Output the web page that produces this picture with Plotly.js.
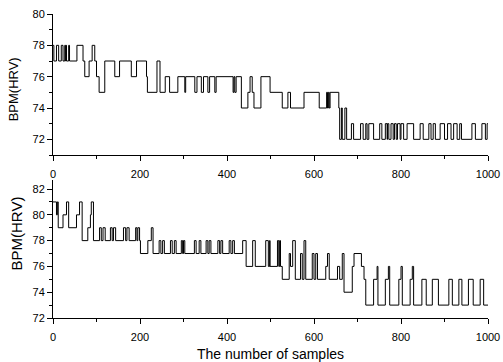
<!DOCTYPE html>
<html>
<head>
<meta charset="utf-8">
<script src="https://cdn.plot.ly/plotly-3.0.1.min.js"></script>
<style>html,body{margin:0;padding:0;background:#fff;}#chart{width:503px;height:362px;}</style>
</head>
<body>
<div id="chart"></div>
<script>
// Sample index where the value changes (step data) and the value from that sample on
const topSamples = [0,2,8,13,19,23,27,29,30,31,36,38,55,69,73,83,90,96,100,106,119,142,153,180,192,215,217,239,246,258,268,287,303,305,326,331,341,346,356,360,372,375,414,416,418,421,433,448,453,458,462,478,499,527,540,546,577,612,629,631,633,635,637,657,659,663,665,671,675,686,691,707,713,719,722,726,737,751,756,764,768,769,772,777,782,785,789,792,798,800,806,814,829,844,851,864,869,874,879,890,900,907,915,921,929,935,939,963,971,986,994,998,1000];
const topBPM     = [78,77,78,77,78,77,78,77,78,77,78,77,78,77,76,77,78,77,76,75,77,76,77,76,77,76,75,77,75,76,75,76,75,76,75,76,75,76,75,76,75,76,75,76,75,76,74,75,76,75,74,76,75,74,75,74,75,74,75,74,75,74,75,74,72,74,72,74,72,73,72,73,72,73,72,73,72,73,72,73,72,73,72,73,72,73,72,73,72,73,72,73,72,73,72,73,72,73,72,73,72,73,72,73,72,73,72,73,72,73,72,73,73];

const botSamples = [0,8,10,12,23,31,36,54,61,67,80,86,88,93,107,111,115,120,132,136,139,144,162,167,170,175,190,193,195,199,201,218,226,230,244,248,252,256,270,274,279,283,295,298,300,303,325,329,336,340,352,356,359,363,379,383,386,390,405,409,413,417,436,444,459,465,489,495,498,499,516,519,521,523,527,543,546,551,557,569,573,577,581,596,600,604,608,627,631,635,654,659,665,669,688,692,709,715,719,737,745,747,764,771,774,795,800,803,821,826,829,848,858,872,886,910,918,933,940,955,966,982,990,1000];
const botBPM     = [81,80,81,79,80,81,79,80,81,78,79,80,81,78,79,78,79,78,79,78,79,78,79,78,79,78,79,78,79,78,77,78,79,77,78,77,78,77,78,77,78,77,78,77,78,77,78,77,78,77,78,77,78,77,78,77,78,77,78,77,78,77,78,76,78,76,78,76,78,76,78,76,78,76,75,77,76,78,75,77,75,78,75,77,75,77,75,76,77,75,76,75,77,74,76,77,76,75,73,75,76,73,75,76,73,75,76,73,75,76,73,75,73,75,73,75,73,75,73,75,73,75,73,73];

const xTicks = [0,200,400,600,800,1000];
const xLabel = 'The number of samples';
const yLabel = 'BPM(HRV)';

const fam = 'Liberation Sans, Arial, sans-serif';
const font = {family: fam, size: 11, color: '#000'};

const lineStyle = {color: '#000', width: 1, shape: 'hv'};
const traces = [
  {x: topSamples, y: topBPM, type: 'scatter', mode: 'lines', line: lineStyle, xaxis: 'x', yaxis: 'y', hoverinfo: 'none'},
  {x: botSamples, y: botBPM, type: 'scatter', mode: 'lines', line: lineStyle, xaxis: 'x2', yaxis: 'y2', hoverinfo: 'none'}
];

function xAxis(anchor, withTitle) {
  return {
    anchor: anchor, range: [0, 1000], tickvals: xTicks, ticktext: xTicks.map(String),
    showgrid: false, zeroline: false, showline: true, linecolor: '#000', linewidth: 1,
    ticks: 'outside', ticklen: 5, tickwidth: 1, tickcolor: '#000', tickfont: font,
    ticklabelstandoff: 4,
    minor: {dtick: 100, tick0: 0, ticks: 'outside', ticklen: 3, tickwidth: 1, tickcolor: '#000', showgrid: false},
    title: withTitle ? {text: xLabel, font: {family: fam, size: 14, color: '#000'}, standoff: 8} : {text: ''}
  };
}
function yAxis(anchor, range, domain) {
  return {
    anchor: anchor, range: range, domain: domain, dtick: 2, tick0: 72,
    showgrid: false, zeroline: false, showline: true, linecolor: '#000', linewidth: 1,
    ticks: 'outside', ticklen: 5, tickwidth: 1, tickcolor: '#000', tickfont: font,
    minor: {dtick: 1, ticks: 'outside', ticklen: 3, tickwidth: 1, tickcolor: '#000', showgrid: false},
    title: {text: ''}
  };
}

const layout = {
  width: 503, height: 362,
  margin: {l: 53, r: 15, t: 14, b: 44},
  paper_bgcolor: '#fff', plot_bgcolor: '#fff',
  showlegend: false, font: font,
  xaxis: xAxis('y', false),
  yaxis: yAxis('x', [71, 80], [0.5362, 1]),
  xaxis2: xAxis('y2', true),
  yaxis2: yAxis('x2', [72, 82.7], [0, 0.4539]),
  annotations: [
    {text: yLabel, xref: 'paper', yref: 'paper', x: -0.092, y: 0.752, xanchor: 'center', yanchor: 'middle',
     textangle: -90, showarrow: false, font: {family: fam, size: 13, color: '#000'}},
    {text: yLabel, xref: 'paper', yref: 'paper', x: -0.085, y: 0.278, xanchor: 'center', yanchor: 'middle',
     textangle: -90, showarrow: false, font: {family: fam, size: 15, color: '#000'}}
  ]
};

Plotly.newPlot('chart', traces, layout, {displayModeBar: false, staticPlot: true});
</script>
</body>
</html>
